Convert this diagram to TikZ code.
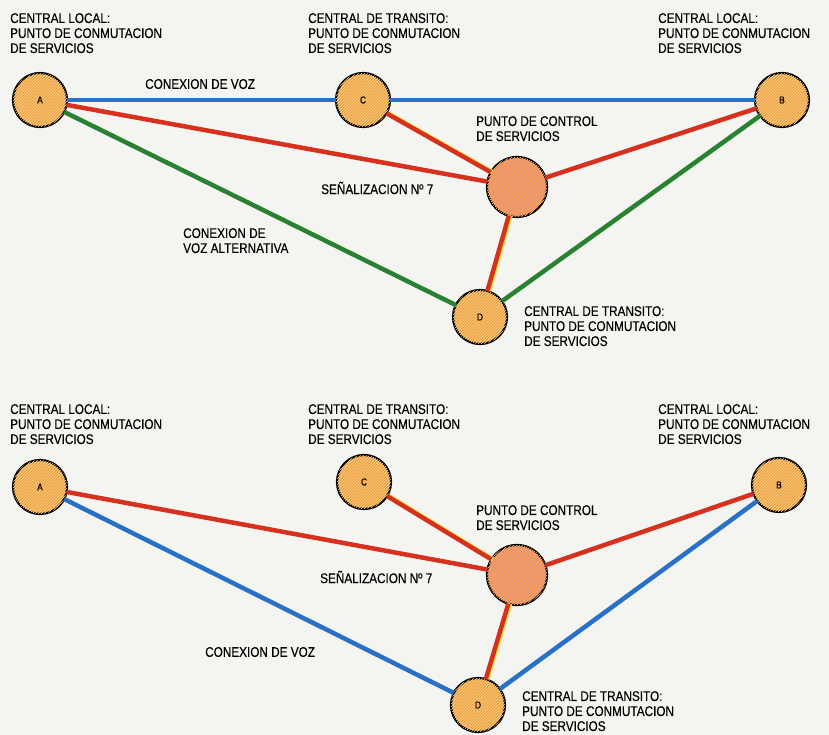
\documentclass[tikz,border=0pt]{standalone}
\usepackage{fontspec}
\setmainfont{Liberation Sans}[FakeStretch=0.84,FakeBold=0.3]
\usepackage{tikz}
\usetikzlibrary{patterns}

\definecolor{paper}{RGB}{244,244,240}
\definecolor{nodeor}{RGB}{238,162,72}
\definecolor{nodehatch}{RGB}{252,214,140}
\definecolor{ctrlor}{RGB}{236,140,120}
\definecolor{ctrlhatch}{RGB}{240,160,70}
\definecolor{voz}{RGB}{40,112,200}
\definecolor{senal}{RGB}{214,48,30}
\definecolor{alter}{RGB}{40,130,50}
\definecolor{borde}{RGB}{250,226,60}

\begin{document}
\begin{tikzpicture}[x=1pt,y=-1pt,
  central/.style={circle,draw=black,line width=2.2pt,fill=nodeor,
    postaction={pattern=north east lines,pattern color=nodehatch},
    minimum size=54pt,inner sep=0pt,outer sep=0pt,font=\fontsize{10}{12}\selectfont},
  control/.style={central,fill=ctrlor,minimum size=60pt,
    postaction={pattern=north east lines,pattern color=ctrlhatch}},
  txt/.style={align=left,inner sep=0pt,font=\fontsize{14}{15}\selectfont},
  linvoz/.style={voz,line width=4.5pt},
  linsen/.style={senal,line width=4.5pt},
  linalt/.style={alter,line width=4.5pt},
  linbor/.style={borde,line width=4.5pt,transform canvas={xshift=1.6pt}}]
\useasboundingbox[fill=paper] (0,0) rectangle (829,735);

% upper drawing
\node[central] (a1) at (40,100) {A};
\node[central] (c1) at (363,100) {C};
\node[central] (b1) at (782,100) {B};
\node[control] (p1) at (517,187) {};
\node[central] (d1) at (480,317) {D};

\draw[linvoz] (a1) -- (c1);
\draw[linvoz] (c1) -- (b1);
\draw[linsen] (a1) -- (p1);
\draw[linbor] (c1) -- (p1);
\draw[linsen] (c1) -- (p1);
\draw[linsen] (p1) -- (b1);
\draw[linbor] (p1) -- (d1);
\draw[linsen] (p1) -- (d1);
\draw[linalt] (a1) -- (d1);
\draw[linalt] (d1) -- (b1);

\node[txt,anchor=north west] (ta1) at (10,13) {CENTRAL LOCAL:\\PUNTO DE CONMUTACION\\DE SERVICIOS};
\node[txt,anchor=north west] (tc1) at (308,13) {CENTRAL DE TRANSITO:\\PUNTO DE CONMUTACION\\DE SERVICIOS};
\node[txt,anchor=north west] (tb1) at (658,13) {CENTRAL LOCAL:\\PUNTO DE CONMUTACION\\DE SERVICIOS};
\node[txt,anchor=west] (tv1) at (145,84) {CONEXION DE VOZ};
\node[txt,anchor=north west] (tp1) at (476,116) {PUNTO DE CONTROL\\DE SERVICIOS};
\node[txt,anchor=west] (ts1) at (321,188) {SEÑALIZACION Nº 7};
\node[txt,anchor=north west] (tl1) at (183,228) {CONEXION DE\\VOZ ALTERNATIVA};
\node[txt,anchor=north west] (td1) at (524,306) {CENTRAL DE TRANSITO:\\PUNTO DE CONMUTACION\\DE SERVICIOS};

% lower drawing, speech via D
\node[central] (a2) at (40,487) {A};
\node[central] (c2) at (364,482) {C};
\node[central] (b2) at (779,485) {B};
\node[control] (p2) at (517,575) {};
\node[central] (d2) at (478,705) {D};

\draw[linsen] (a2) -- (p2);
\draw[linbor] (c2) -- (p2);
\draw[linsen] (c2) -- (p2);
\draw[linsen] (p2) -- (b2);
\draw[linbor] (p2) -- (d2);
\draw[linsen] (p2) -- (d2);
\draw[linvoz] (a2) -- (d2);
\draw[linvoz] (d2) -- (b2);

\node[txt,anchor=north west] (ta2) at (10,404) {CENTRAL LOCAL:\\PUNTO DE CONMUTACION\\DE SERVICIOS};
\node[txt,anchor=north west] (tc2) at (308,404) {CENTRAL DE TRANSITO:\\PUNTO DE CONMUTACION\\DE SERVICIOS};
\node[txt,anchor=north west] (tb2) at (658,404) {CENTRAL LOCAL:\\PUNTO DE CONMUTACION\\DE SERVICIOS};
\node[txt,anchor=north west] (tp2) at (476,505) {PUNTO DE CONTROL\\DE SERVICIOS};
\node[txt,anchor=west] (ts2) at (320,577) {SEÑALIZACION Nº 7};
\node[txt,anchor=west] (tv2) at (205,652) {CONEXION DE VOZ};
\node[txt,anchor=north west] (td2) at (522,691) {CENTRAL DE TRANSITO:\\PUNTO DE CONMUTACION\\DE SERVICIOS};
\end{tikzpicture}
\end{document}
